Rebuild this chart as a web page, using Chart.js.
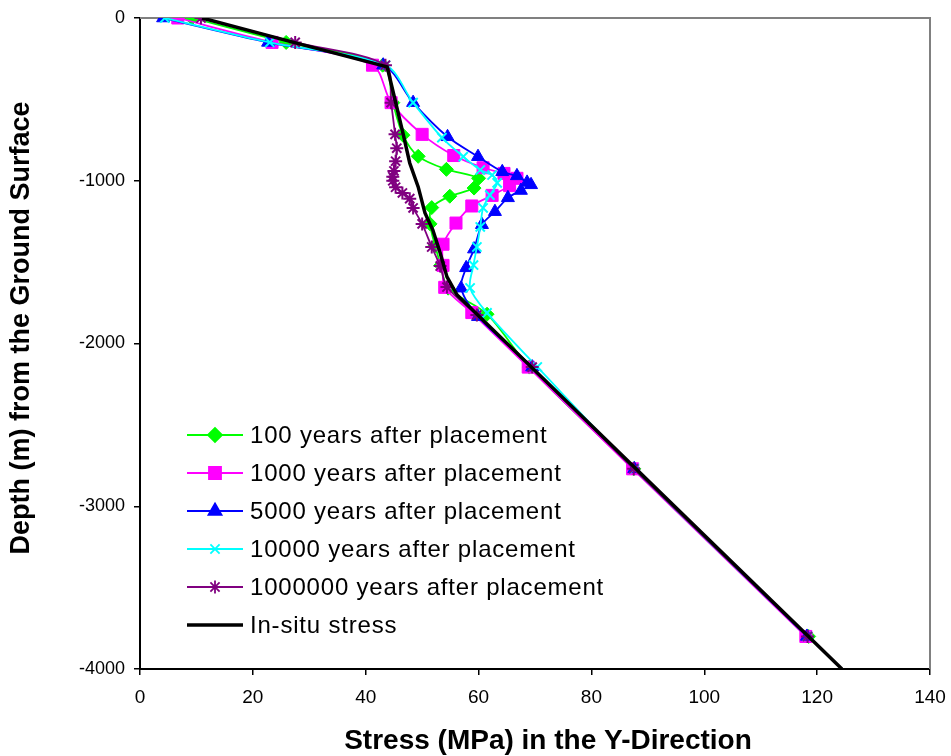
<!DOCTYPE html>
<html>
<head>
<meta charset="utf-8">
<script src="https://cdn.jsdelivr.net/npm/chart.js@4.4.1/dist/chart.umd.min.js"></script>
<style>
  html, body { margin: 0; padding: 0; background: #fff; }
  #wrap { width: 951px; height: 756px; }
</style>
</head>
<body>
<div id="wrap"><canvas id="c" width="951" height="756"></canvas></div>
<script>
// Stress (MPa) vs depth (m), one pair of arrays per curve
const x100 = [9.2, 25.9, 43.0, 44.8, 46.6, 49.3, 54.3, 60.0, 59.2, 54.9, 51.7, 51.4, 52.3, 53.3, 54.6, 61.5, 69.0, 87.5, 118.5];
const y100 = [0, -150, -290, -520, -720, -850, -930, -985, -1045, -1095, -1165, -1265, -1400, -1520, -1660, -1820, -2145, -2770, -3800];

const x1000 = [6.7, 23.4, 41.2, 44.5, 50.0, 55.6, 60.8, 64.5, 66.8, 65.5, 62.4, 58.8, 56.0, 53.7, 53.7, 54.0, 58.8, 68.8, 87.3, 118.0];
const y1000 = [0, -150, -290, -520, -715, -845, -920, -955, -985, -1030, -1090, -1155, -1260, -1390, -1520, -1655, -1810, -2145, -2770, -3800];

const x5000 = [4.1, 22.7, 43.1, 48.4, 54.5, 59.9, 64.2, 66.8, 68.6, 69.3, 67.5, 65.2, 62.9, 60.6, 59.2, 57.8, 56.9, 59.9, 69.5, 87.6, 118.2];
const y5000 = [0, -150, -290, -520, -730, -852, -945, -970, -1010, -1025, -1060, -1105, -1190, -1270, -1420, -1535, -1660, -1835, -2145, -2770, -3800];

const x10000 = [4.4, 23.0, 43.5, 48.4, 53.5, 57.3, 60.3, 62.4, 63.3, 62.0, 60.8, 60.3, 59.7, 59.1, 58.5, 61.5, 70.4, 87.6, 118.3];
const y10000 = [0, -150, -290, -520, -735, -852, -934, -965, -1013, -1088, -1167, -1284, -1407, -1518, -1659, -1812, -2144, -2770, -3800];

const x1e6 = [10.8, 27.5, 43.5, 44.5, 45.2, 45.5, 45.3, 45.0, 44.8, 44.8, 45.3, 46.5, 47.8, 48.4, 50.0, 51.7, 53.2, 54.4, 59.7, 69.5, 87.5, 118.3];
const y1e6 = [0, -150, -290, -520, -715, -800, -880, -940, -975, -1000, -1040, -1075, -1110, -1167, -1265, -1407, -1524, -1653, -1825, -2145, -2770, -3800];

const xSitu = [11.0, 26.9, 43.8, 45.2, 46.6, 47.8, 49.3, 50.5, 51.9, 53.2, 54.4, 56.2, 124.4];
const ySitu = [0, -147, -300, -504, -707, -891, -1038, -1198, -1303, -1444, -1591, -1702, -4000];

const names = [
  '100 years after placement',
  '1000 years after placement',
  '5000 years after placement',
  '10000 years after placement',
  '1000000 years after placement',
  'In-situ stress'
];

const xTicks = [0, 20, 40, 60, 80, 100, 120, 140];
const yTicks = [0, -1000, -2000, -3000, -4000];
const xTitle = 'Stress (MPa) in the Y-Direction';
const yTitle = 'Depth (m) from the Ground Surface';

const pts = (xs, ys) => xs.map((x, i) => ({ x: x, y: ys[i] }));

const series = [
  { data: pts(x100, y100), color: '#00ff00', style: 'rectRot', r: 7, order: 6 },
  { data: pts(x1000, y1000), color: '#ff00ff', style: 'rect', r: 8.5, order: 5 },
  { data: pts(x5000, y5000), color: '#0000ff', style: 'triangle', r: 7.5, order: 4 },
  { data: pts(x10000, y10000), color: '#00ffff', style: 'crossRot', r: 6.5, order: 3 },
  { data: pts(x1e6, y1e6), color: '#800080', style: 'star', r: 6.5, order: 2 },
  { data: pts(xSitu, ySitu), color: '#000000', style: false, r: 0, order: 1 }
];

const datasets = series.map((s, i) => ({
  label: names[i],
  data: s.data,
  order: s.order,
  showLine: true,
  borderColor: s.color,
  backgroundColor: s.color,
  borderWidth: i === 5 ? 3.5 : 1.8,
  tension: i === 5 ? 0 : 0.3,
  pointStyle: s.style,
  pointRadius: s.r,
  pointBorderWidth: (s.style === 'crossRot' || s.style === 'star') ? 2 : 1,
  pointBorderColor: s.color,
  pointBackgroundColor: s.color
}));

const FONT = '"Liberation Sans", Arial, sans-serif';

// legend drawn inside the plot area + axis titles
const legendBox = {
  id: 'legendBox',
  afterDraw(chart) {
    const ctx = chart.ctx;
    ctx.save();
    datasets.forEach((d, i) => {
      const y = 435 + i * 38;
      ctx.strokeStyle = d.borderColor;
      ctx.lineWidth = d.borderWidth;
      ctx.beginPath();
      ctx.moveTo(187, y);
      ctx.lineTo(243, y);
      ctx.stroke();
      if (d.pointStyle) {
        ctx.fillStyle = d.pointBackgroundColor;
        Chart.helpers.drawPoint(ctx, {
          pointStyle: d.pointStyle,
          radius: d.pointRadius,
          rotation: 0,
          borderWidth: d.pointBorderWidth
        }, 215, y);
      }
      ctx.fillStyle = '#000';
      ctx.font = '24px ' + FONT;
      ctx.letterSpacing = '0.8px';
      ctx.textBaseline = 'middle';
      ctx.textAlign = 'left';
      ctx.fillText(d.label, 250, y + 1);
    });
    ctx.letterSpacing = '0px';
    ctx.font = 'bold 28px ' + FONT;
    ctx.textAlign = 'center';
    ctx.textBaseline = 'middle';
    ctx.fillText(xTitle, 548, 741);
    ctx.translate(22, 328);
    ctx.rotate(-Math.PI / 2);
    ctx.font = 'bold 27px ' + FONT;
    ctx.fillText(yTitle, 0, 0);
    ctx.restore();
  }
};

// gray frame on top and right
const frame = {
  id: 'frame',
  beforeDatasetsDraw(chart) {
    const a = chart.chartArea;
    const ctx = chart.ctx;
    ctx.save();
    ctx.strokeStyle = '#808080';
    ctx.lineWidth = 2;
    ctx.beginPath();
    ctx.moveTo(a.left, a.top);
    ctx.lineTo(a.right, a.top);
    ctx.lineTo(a.right, a.bottom);
    ctx.stroke();
    ctx.restore();
  }
};

new Chart(document.getElementById('c'), {
  type: 'scatter',
  data: { datasets: datasets },
  options: {
    responsive: false,
    animation: false,
    layout: { padding: { top: 18, right: 21, left: 0, bottom: 0 } },
    plugins: { legend: { display: false }, tooltip: { enabled: false } },
    scales: {
      x: {
        type: 'linear',
        min: 0,
        max: 140,
        afterBuildTicks: s => { s.ticks = xTicks.map(v => ({ value: v })); },
        afterFit: s => { s.height = 87; s.paddingLeft = 0; s.paddingRight = 0; },
        ticks: { color: '#000', font: { family: FONT, size: 19 }, padding: 11, maxRotation: 0, callback: v => String(v) },
        grid: { drawOnChartArea: false, drawTicks: true, tickLength: 6, color: '#000', lineWidth: 1.5 },
        border: { display: true, color: '#000', width: 2 }
      },
      y: {
        type: 'linear',
        min: -4000,
        max: 0,
        afterBuildTicks: s => { s.ticks = yTicks.map(v => ({ value: v })); },
        afterFit: s => { s.width = 140; s.paddingTop = 0; s.paddingBottom = 0; },
        ticks: { color: '#000', font: { family: FONT, size: 18 }, padding: 9, callback: v => String(v) },
        grid: { drawOnChartArea: false, drawTicks: true, tickLength: 6, color: '#000', lineWidth: 1.5 },
        border: { display: true, color: '#000', width: 2 }
      }
    }
  },
  plugins: [frame, legendBox]
});
</script>
</body>
</html>
